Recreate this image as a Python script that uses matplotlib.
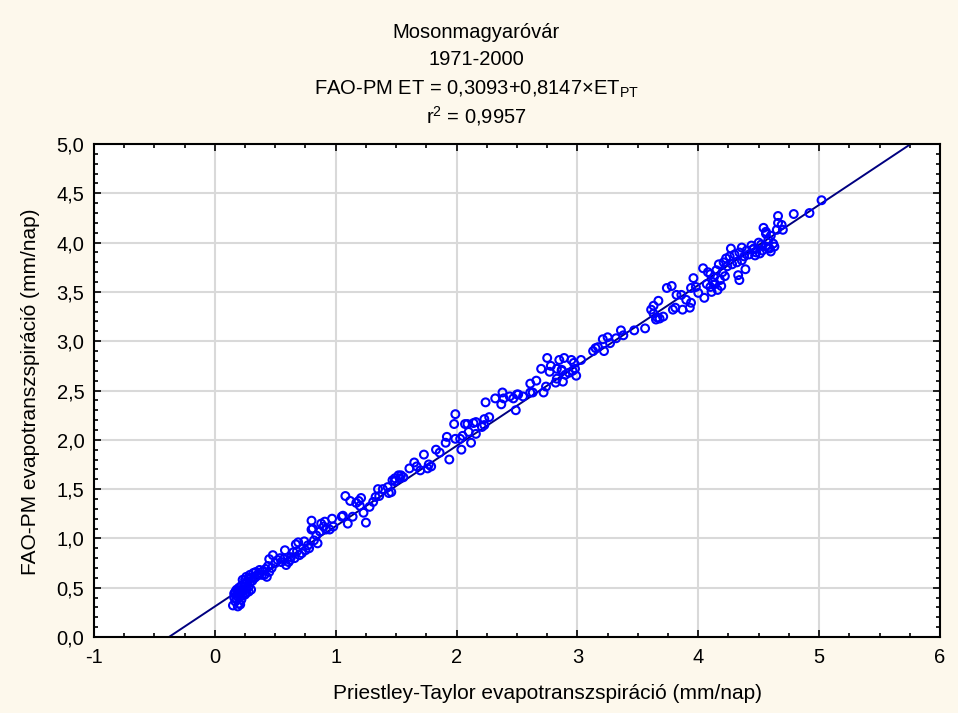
import numpy as np
import matplotlib
matplotlib.use('Agg')
import matplotlib.pyplot as plt
from matplotlib.ticker import MultipleLocator, FuncFormatter

plt.rcParams['font.family'] = ['Liberation Sans', 'DejaVu Sans']
plt.rcParams['mathtext.fontset'] = 'custom'
plt.rcParams['mathtext.rm'] = 'Liberation Sans'

# Regression coefficients from the chart header
intercept = 0.3093
slope = 0.8147
r2 = 0.9957

# Priestley-Taylor ET (x) vs FAO-PM ET (y)
pt_x = [0.15, 0.19, 0.20, 0.18, 0.17, 0.21, 0.19, 0.25, 0.23, 0.28, 0.30, 0.28, 0.25, 0.23, 0.26,
        0.29, 0.32, 0.34, 0.37, 0.39, 0.41, 0.43, 0.45, 0.47, 0.45, 0.48, 0.50, 0.52, 0.54, 0.58,
        0.59, 0.61, 0.62, 0.63, 0.65, 0.67, 0.69, 0.70, 0.72, 0.74, 0.77, 0.80, 0.80, 0.81, 0.84,
        0.85, 0.87, 0.88, 0.90, 0.91, 0.92, 0.95, 0.97, 0.98, 1.05, 1.06, 1.08, 1.10, 1.12, 1.14,
        1.17, 1.19, 1.20, 1.21, 1.23, 1.25, 1.28, 1.31, 1.33, 1.35, 1.36, 1.39, 1.43, 1.44, 1.46,
        1.49,
        0.16, 0.17, 0.18, 0.20, 0.21, 0.22, 0.22, 0.24, 0.24, 0.26, 0.27, 0.29, 0.31, 0.33, 0.35,
        0.20, 0.18, 0.23, 0.26, 0.30, 0.36, 0.40, 0.19, 0.21, 0.16, 0.25, 0.28, 0.42, 0.44, 0.55,
        0.57, 0.66, 0.68, 0.75, 0.78, 0.82,
        1.47, 1.49, 1.52, 1.54, 1.53, 1.56, 1.61, 1.65, 1.67, 1.70, 1.73, 1.76, 1.77, 1.79, 1.83,
        1.86, 1.94, 1.91, 1.92, 1.98, 1.99, 1.99, 2.03, 2.04, 2.05, 2.07, 2.09, 2.10, 2.12, 2.14,
        2.16, 2.16, 2.21, 2.23, 2.23, 2.24, 2.27, 2.32, 2.37, 2.38, 2.39, 2.47, 2.49, 2.50, 2.55,
        2.61, 2.66, 2.61, 2.63, 2.72, 2.74, 2.70, 2.77, 2.78, 2.82, 2.83, 2.87, 2.90, 2.93, 2.96,
        2.99, 2.44, 2.51, 2.75, 2.85, 2.89, 2.83, 2.87, 2.88, 2.95, 2.97, 2.98, 3.03,
        3.13, 3.15, 3.17, 3.22, 3.21, 3.25, 3.27, 3.32, 3.36, 3.38, 3.47, 3.56, 3.61, 3.63, 3.67,
        3.63, 3.65, 3.68, 3.71, 3.74, 3.78,
        3.66, 3.79, 3.81, 3.87, 3.82, 3.86, 3.90, 3.93, 3.94, 3.96, 3.94, 3.98, 4.00, 4.05, 4.04,
        4.08, 4.10, 4.12, 4.11, 4.14, 4.16, 4.13, 4.18, 4.10, 4.15, 4.17, 4.20, 4.22, 4.07, 4.19,
        4.21, 4.24, 4.23, 4.26, 4.27, 4.33, 4.34, 4.39, 4.30, 4.34, 4.36, 4.38, 4.40, 4.42, 4.44,
        4.46, 4.48, 4.50, 4.53, 4.56, 4.32, 4.36, 4.28, 4.54, 4.56, 4.58, 4.60, 4.63, 4.66, 4.66,
        4.69, 4.70, 4.65, 4.62, 4.59, 4.51, 4.52, 4.58, 4.60, 4.56, 4.79, 4.92, 5.02, 4.45, 4.47]
pm_y = [0.32, 0.31, 0.34, 0.38, 0.46, 0.41, 0.44, 0.43, 0.48, 0.46, 0.48, 0.51, 0.54, 0.58, 0.61,
        0.63, 0.65, 0.66, 0.68, 0.63, 0.63, 0.61, 0.66, 0.70, 0.79, 0.83, 0.75, 0.78, 0.80, 0.88,
        0.73, 0.76, 0.78, 0.81, 0.86, 0.94, 0.96, 0.83, 0.85, 0.97, 0.93, 1.18, 1.09, 1.10, 1.03,
        0.95, 1.07, 1.15, 1.12, 1.17, 1.09, 1.09, 1.20, 1.12, 1.22, 1.23, 1.43, 1.15, 1.38, 1.22,
        1.36, 1.38, 1.33, 1.41, 1.26, 1.16, 1.32, 1.37, 1.42, 1.50, 1.43, 1.50, 1.52, 1.46, 1.47,
        1.58,
        0.40, 0.36, 0.48, 0.50, 0.45, 0.38, 0.52, 0.47, 0.51, 0.49, 0.56, 0.55, 0.57, 0.60, 0.62,
        0.43, 0.42, 0.42, 0.45, 0.60, 0.64, 0.67, 0.47, 0.33, 0.44, 0.58, 0.59, 0.69, 0.72, 0.76,
        0.79, 0.80, 0.87, 0.88, 0.90, 0.98,
        1.59, 1.61, 1.64, 1.64, 1.61, 1.62, 1.71, 1.77, 1.73, 1.69, 1.85, 1.71, 1.75, 1.73, 1.90,
        1.87, 1.80, 1.97, 2.03, 2.16, 2.26, 2.01, 2.01, 1.90, 2.04, 2.16, 2.16, 2.08, 1.97, 2.17,
        2.06, 2.18, 2.13, 2.15, 2.21, 2.38, 2.23, 2.42, 2.36, 2.48, 2.42, 2.42, 2.30, 2.46, 2.44,
        2.57, 2.60, 2.48, 2.48, 2.48, 2.54, 2.72, 2.69, 2.75, 2.58, 2.62, 2.70, 2.66, 2.68, 2.70,
        2.65, 2.44, 2.46, 2.83, 2.81, 2.83, 2.72, 2.71, 2.59, 2.81, 2.78, 2.72, 2.81,
        2.90, 2.93, 2.94, 2.90, 3.02, 3.04, 2.98, 3.03, 3.11, 3.06, 3.11, 3.13, 3.32, 3.36, 3.41,
        3.28, 3.22, 3.23, 3.25, 3.54, 3.56,
        3.24, 3.32, 3.34, 3.32, 3.47, 3.47, 3.42, 3.34, 3.39, 3.64, 3.54, 3.55, 3.49, 3.44, 3.74,
        3.70, 3.55, 3.60, 3.50, 3.58, 3.52, 3.65, 3.62, 3.68, 3.72, 3.78, 3.70, 3.66, 3.58, 3.56,
        3.80, 3.76, 3.84, 3.86, 3.94, 3.67, 3.62, 3.73, 3.88, 3.90, 3.95, 3.86, 3.92, 3.88, 3.97,
        3.94, 3.90, 4.00, 3.92, 3.96, 3.80, 3.82, 3.78, 4.15, 4.11, 3.95, 3.91, 3.96, 4.27, 4.20,
        4.18, 4.13, 4.13, 3.99, 3.94, 3.89, 3.98, 4.03, 4.07, 4.09, 4.29, 4.30, 4.43, 3.93, 3.87]

bg = '#fdf8ec'
fig = plt.figure(figsize=(9.58, 7.13), dpi=100, facecolor=bg)
ax = fig.add_axes([0.0981, 0.1066, 0.8831, 0.6914])
ax.set_facecolor('white')

ax.grid(True, color='#d9d9d9', linewidth=1.5, zorder=0)
ax.set_axisbelow(True)

# fitted line across the whole x range, clipped by the axes
fit_x = np.array([-1.0, 6.0])
ax.plot(fit_x, intercept + slope * fit_x, color='#000080', linewidth=1.4, zorder=2)

ax.scatter(pt_x, pm_y, s=32, facecolors='none', edgecolors='#0000ff', linewidths=1.5, zorder=3)

ax.set_xlim(-1, 6)
ax.set_ylim(0, 5)
ax.xaxis.set_major_locator(MultipleLocator(1))
ax.xaxis.set_minor_locator(MultipleLocator(0.25))
ax.yaxis.set_major_locator(MultipleLocator(0.5))
ax.yaxis.set_minor_locator(MultipleLocator(0.1))
ax.yaxis.set_major_formatter(FuncFormatter(lambda v, p: f'{v:.1f}'.replace('.', ',')))
ax.xaxis.set_major_formatter(FuncFormatter(lambda v, p: f'{v:.0f}'))

ax.tick_params(which='both', direction='in', top=True, right=True, labelsize=14.5, width=1.2)
ax.tick_params(which='major', length=5)
ax.tick_params(which='minor', length=3)
ax.tick_params(axis='x', which='major', pad=8)
ax.tick_params(axis='y', which='major', pad=7)
for sp in ax.spines.values():
    sp.set_linewidth(1.5)

fs = 14.5
fig.text(0.497, 0.955, 'Mosonmagyaróvár', ha='center', va='center', fontsize=fs)
fig.text(0.497, 0.916, '1971-2000', ha='center', va='center', fontsize=fs)
fig.text(0.497, 0.874, r'FAO-PM ET = 0,3093+0,8147×ET$_{\mathregular{PT}}$',
         ha='center', va='center', fontsize=fs)
fig.text(0.497, 0.837, r'r$^{\mathregular{2}}$ = 0,9957', ha='center', va='center', fontsize=fs)

fig.text(0.571, 0.028, 'Priestley-Taylor evapotranszspiráció (mm/nap)', ha='center', va='center', fontsize=15)
fig.text(0.032, 0.45, 'FAO-PM evapotranszspiráció (mm/nap)', ha='center', va='center',
         rotation=90, fontsize=15)

fig.savefig('out.png', dpi=100, facecolor=bg)
